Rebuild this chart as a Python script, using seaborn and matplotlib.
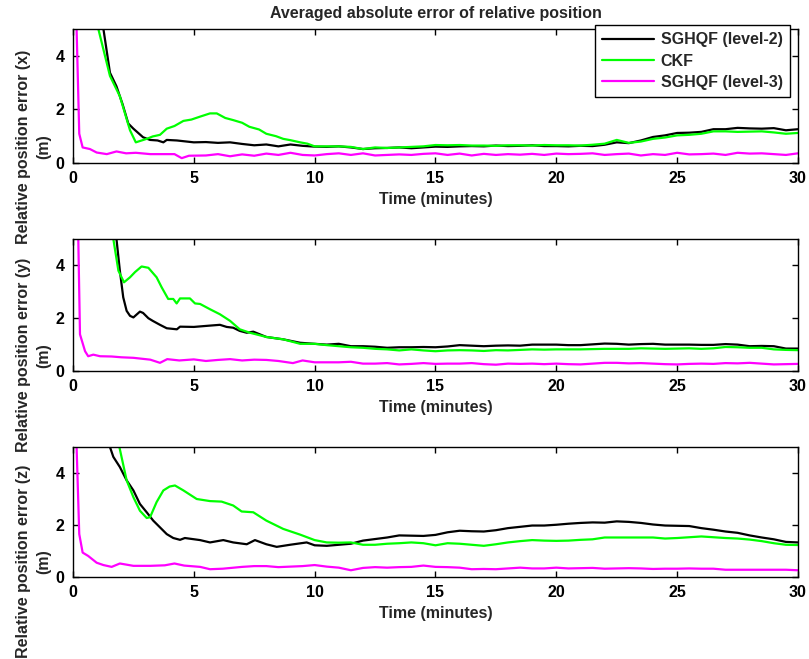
import numpy as np
import pandas as pd
import matplotlib
matplotlib.use("Agg")
import matplotlib.pyplot as plt
import seaborn as sns

# ---------------------------------------------------------------- data
FILTERS = ["SGHQF (level-2)", "CKF", "SGHQF (level-3)"]
COLORS = {"SGHQF (level-2)": "#000000", "CKF": "#00ff00", "SGHQF (level-3)": "#ff00ff"}
AXIS_NAMES = ["x", "y", "z"]

# common half-minute sampling from 10 min to the end of the run
TAIL_T = np.arange(10.0, 30.01, 0.5)

# ---- x axis
X_L2_T = [1.0, 1.26, 1.53, 1.8, 2.05, 2.29, 2.5, 2.9, 3.19, 3.5, 3.74, 3.88, 4.3, 4.7, 5.0, 5.5,
          6.0, 6.5, 7.0, 7.5, 8.0, 8.5, 9.0, 9.5]
X_L2_V = [6.6, 5.0, 3.37, 2.86, 2.2, 1.47, 1.28, 0.96, 0.86, 0.84, 0.77, 0.86, 0.84, 0.80, 0.77, 0.78,
          0.75, 0.77, 0.71, 0.66, 0.69, 0.62, 0.69, 0.64]
X_L2_TAIL = [0.61, 0.60, 0.62, 0.58, 0.52, 0.55, 0.56, 0.58, 0.55, 0.58,
             0.61, 0.60, 0.62, 0.63, 0.62, 0.65, 0.63, 0.64, 0.66, 0.63,
             0.63, 0.62, 0.64, 0.63, 0.68, 0.77, 0.74, 0.84, 0.97, 1.03,
             1.12, 1.13, 1.16, 1.26, 1.26, 1.31, 1.29, 1.28, 1.30, 1.22,
             1.26]

X_CKF_T = [0.8, 1.05, 1.53, 1.94, 2.36, 2.6, 3.05, 3.3, 3.6, 3.88, 4.2, 4.57, 4.9, 5.26, 5.67, 5.95,
           6.3, 6.63, 7.0, 7.3, 7.7, 8.0, 8.4, 8.7, 9.0, 9.4, 9.7]
X_CKF_V = [6.6, 5.0, 3.25, 2.49, 1.22, 0.77, 0.90, 0.99, 1.05, 1.28, 1.38, 1.57, 1.62, 1.73, 1.85, 1.85,
           1.68, 1.60, 1.50, 1.35, 1.25, 1.09, 1.00, 0.90, 0.85, 0.77, 0.72]
X_CKF_TAIL = [0.62, 0.62, 0.62, 0.60, 0.52, 0.58, 0.56, 0.58, 0.60, 0.62,
              0.67, 0.66, 0.67, 0.65, 0.65, 0.64, 0.66, 0.66, 0.65, 0.67,
              0.66, 0.66, 0.65, 0.68, 0.72, 0.86, 0.75, 0.80, 0.90, 0.95,
              1.03, 1.05, 1.09, 1.18, 1.18, 1.16, 1.17, 1.18, 1.14, 1.09,
              1.12]

X_L3_T = [0.1, 0.15, 0.26, 0.4, 0.7, 0.98, 1.4, 1.8, 2.2, 2.6, 3.2, 3.7, 4.2, 4.5, 4.8, 5.5,
          6.0, 6.5, 7.0, 7.5, 8.0, 8.5, 9.0, 9.5]
X_L3_V = [8.0, 5.0, 1.09, 0.58, 0.52, 0.39, 0.33, 0.43, 0.36, 0.38, 0.33, 0.33, 0.33, 0.18, 0.27, 0.28,
          0.33, 0.25, 0.32, 0.27, 0.35, 0.30, 0.38, 0.30]
X_L3_TAIL = [0.28, 0.33, 0.36, 0.30, 0.36, 0.28, 0.30, 0.32, 0.30, 0.34,
             0.36, 0.30, 0.35, 0.28, 0.34, 0.30, 0.33, 0.31, 0.34, 0.30,
             0.35, 0.33, 0.34, 0.36, 0.30, 0.33, 0.35, 0.28, 0.33, 0.30,
             0.38, 0.32, 0.33, 0.35, 0.30, 0.38, 0.35, 0.36, 0.33, 0.30,
             0.36]

# ---- y axis
Y_L2_T = [1.6, 1.8, 1.94, 2.08, 2.22, 2.36, 2.5, 2.77, 2.9, 3.12, 3.3, 3.6, 3.88, 4.3, 4.43, 5.0,
          5.53, 6.08, 6.36, 6.63, 6.9, 7.19, 7.46, 8.0, 8.7, 9.4]
Y_L2_V = [6.5, 5.0, 3.8, 2.79, 2.28, 2.09, 2.03, 2.25, 2.20, 2.00, 1.90, 1.75, 1.62, 1.58, 1.68, 1.67,
          1.71, 1.75, 1.67, 1.64, 1.52, 1.45, 1.49, 1.29, 1.20, 1.07]
Y_L2_TAIL = [1.03, 1.00, 1.03, 0.94, 0.94, 0.92, 0.88, 0.90, 0.90, 0.91,
             0.90, 0.93, 0.98, 0.96, 0.94, 0.96, 0.97, 0.96, 1.00, 1.00,
             1.00, 0.98, 0.98, 1.01, 1.04, 1.03, 1.00, 1.02, 1.03, 1.00,
             1.00, 1.00, 0.99, 0.99, 1.02, 1.00, 0.94, 0.95, 0.94, 0.85,
             0.85]

Y_CKF_T = [1.5, 1.67, 1.88, 2.11, 2.36, 2.57, 2.84, 3.12, 3.46, 3.67, 3.94, 4.15, 4.29, 4.43, 4.84,
           5.05, 5.26, 5.67, 6.08, 6.5, 6.9, 7.32, 8.0, 8.7, 9.4]
Y_CKF_V = [6.5, 5.0, 3.8, 3.36, 3.55, 3.75, 3.96, 3.91, 3.55, 3.17, 2.73, 2.73, 2.56, 2.75, 2.75,
           2.56, 2.54, 2.34, 2.15, 1.90, 1.58, 1.45, 1.29, 1.20, 1.03]
Y_CKF_TAIL = [1.03, 0.98, 0.94, 0.90, 0.88, 0.84, 0.82, 0.78, 0.82, 0.78,
              0.75, 0.78, 0.79, 0.78, 0.76, 0.79, 0.78, 0.80, 0.82, 0.81,
              0.82, 0.82, 0.82, 0.83, 0.84, 0.84, 0.84, 0.86, 0.85, 0.84,
              0.85, 0.86, 0.84, 0.86, 0.91, 0.90, 0.88, 0.88, 0.82, 0.80,
              0.79]

Y_L3_T = [0.15, 0.22, 0.29, 0.5, 0.63, 0.84, 1.12, 1.6, 2.0, 2.5, 3.2, 3.6, 3.9, 4.4, 5.0, 5.5,
          6.0, 6.5, 7.0, 7.5, 8.0, 8.5, 9.1, 9.5]
Y_L3_V = [8.0, 5.0, 1.39, 0.75, 0.56, 0.62, 0.56, 0.55, 0.52, 0.50, 0.43, 0.31, 0.45, 0.40, 0.44, 0.38,
          0.42, 0.45, 0.40, 0.43, 0.42, 0.38, 0.30, 0.40]
Y_L3_TAIL = [0.33, 0.33, 0.33, 0.35, 0.28, 0.28, 0.30, 0.25, 0.27, 0.30,
             0.27, 0.28, 0.28, 0.30, 0.26, 0.24, 0.28, 0.27, 0.28, 0.26,
             0.28, 0.26, 0.25, 0.28, 0.31, 0.31, 0.29, 0.30, 0.28, 0.26,
             0.25, 0.27, 0.28, 0.27, 0.30, 0.29, 0.31, 0.28, 0.25, 0.26,
             0.27]

# ---- z axis
Z_L2_T = [1.3, 1.53, 1.67, 1.94, 2.22, 2.5, 2.77, 3.05, 3.32, 3.6, 3.88, 4.15, 4.43, 4.63, 5.26,
          5.67, 6.22, 6.63, 7.19, 7.53, 8.0, 8.43, 8.98, 9.67]
Z_L2_V = [6.5, 5.0, 4.62, 4.23, 3.72, 3.33, 2.81, 2.49, 2.17, 1.91, 1.65, 1.50, 1.43, 1.50, 1.42,
          1.33, 1.42, 1.33, 1.26, 1.42, 1.26, 1.16, 1.24, 1.33]
Z_L2_TAIL = [1.22, 1.20, 1.24, 1.28, 1.40, 1.46, 1.52, 1.60, 1.59, 1.58,
             1.62, 1.72, 1.78, 1.76, 1.75, 1.80, 1.88, 1.93, 1.98, 1.98,
             2.01, 2.05, 2.08, 2.10, 2.09, 2.14, 2.12, 2.08, 2.02, 1.98,
             1.97, 1.96, 1.88, 1.82, 1.75, 1.70, 1.60, 1.52, 1.45, 1.35,
             1.33]

Z_CKF_T = [1.7, 1.92, 2.22, 2.5, 2.77, 3.05, 3.19, 3.46, 3.74, 4.0, 4.22, 4.57, 5.12, 5.67, 6.15,
           6.63, 6.98, 7.46, 8.0, 8.7, 9.4]
Z_CKF_V = [6.5, 5.0, 3.72, 3.07, 2.55, 2.27, 2.30, 2.88, 3.33, 3.48, 3.52, 3.33, 3.00, 2.92, 2.90,
           2.75, 2.52, 2.49, 2.17, 1.85, 1.63]
Z_CKF_TAIL = [1.42, 1.33, 1.32, 1.33, 1.24, 1.24, 1.28, 1.30, 1.33, 1.30,
              1.22, 1.30, 1.28, 1.24, 1.20, 1.26, 1.33, 1.38, 1.42, 1.40,
              1.39, 1.40, 1.43, 1.45, 1.52, 1.52, 1.52, 1.52, 1.52, 1.48,
              1.50, 1.53, 1.56, 1.53, 1.50, 1.48, 1.44, 1.38, 1.30, 1.24,
              1.23]

Z_L3_T = [0.1, 0.15, 0.26, 0.4, 0.63, 0.98, 1.26, 1.6, 1.94, 2.5, 3.2, 3.8, 4.2, 4.6, 5.26, 5.67,
          6.2, 7.0, 7.5, 8.0, 8.5, 9.0, 9.5]
Z_L3_V = [8.0, 5.0, 1.65, 0.94, 0.81, 0.55, 0.46, 0.39, 0.52, 0.43, 0.43, 0.45, 0.52, 0.44, 0.39, 0.30,
          0.32, 0.39, 0.42, 0.42, 0.38, 0.40, 0.42]
Z_L3_TAIL = [0.46, 0.40, 0.36, 0.26, 0.35, 0.38, 0.36, 0.38, 0.39, 0.44,
             0.39, 0.38, 0.36, 0.30, 0.31, 0.30, 0.33, 0.36, 0.33, 0.33,
             0.36, 0.33, 0.34, 0.35, 0.32, 0.33, 0.34, 0.33, 0.31, 0.32,
             0.32, 0.33, 0.32, 0.32, 0.28, 0.28, 0.28, 0.28, 0.28, 0.28,
             0.26]

PANELS = {
    "x": [(X_L2_T, X_L2_V, X_L2_TAIL), (X_CKF_T, X_CKF_V, X_CKF_TAIL), (X_L3_T, X_L3_V, X_L3_TAIL)],
    "y": [(Y_L2_T, Y_L2_V, Y_L2_TAIL), (Y_CKF_T, Y_CKF_V, Y_CKF_TAIL), (Y_L3_T, Y_L3_V, Y_L3_TAIL)],
    "z": [(Z_L2_T, Z_L2_V, Z_L2_TAIL), (Z_CKF_T, Z_CKF_V, Z_CKF_TAIL), (Z_L3_T, Z_L3_V, Z_L3_TAIL)],
}


def panel_frame(axis_name):
    rows = []
    for name, (t_head, v_head, v_tail) in zip(FILTERS, PANELS[axis_name]):
        t = list(t_head) + list(TAIL_T)
        v = list(v_head) + list(v_tail)
        rows.append(pd.DataFrame({"time": t, "error": v, "filter": name}))
    return pd.concat(rows, ignore_index=True)


# ---------------------------------------------------------------- style
FS = 11.5
sns.set_style("ticks")
plt.rcParams.update({
    "font.family": ["Liberation Sans", "DejaVu Sans"],
    "font.weight": "bold",
    "axes.labelweight": "bold",
    "axes.titleweight": "bold",
    "font.size": FS,
    "axes.linewidth": 1.0,
    "axes.edgecolor": "black",
})

fig = plt.figure(figsize=(8.09, 6.59), dpi=100)
left, width = 0.0902, 0.8962
boxes = [(0.7527, 0.2033), (0.4370, 0.2003), (0.1244, 0.1973)]

for i, (axis_name, (bottom, height)) in enumerate(zip(AXIS_NAMES, boxes)):
    ax = fig.add_axes([left, bottom, width, height])
    df = panel_frame(axis_name)
    sns.lineplot(data=df, x="time", y="error", hue="filter", hue_order=FILTERS,
                 palette=COLORS, estimator=None, sort=False, linewidth=1.6,
                 legend=False, ax=ax)
    ax.set_xlim(0, 30)
    ax.set_ylim(0, 5)
    ax.set_xticks([0, 5, 10, 15, 20, 25, 30])
    ax.set_yticks([0, 2, 4])
    ax.tick_params(direction="in", top=True, right=True, length=4, width=1,
                   labelsize=FS, pad=6, colors="black")
    for s in ax.spines.values():
        s.set_visible(True)
        s.set_color("black")
    ax.set_xlabel("Time (minutes)", fontsize=FS, labelpad=4)
    ax.set_ylabel(f"Relative position error ({axis_name})\n(m)", fontsize=FS,
                  linespacing=1.45)
    ax.yaxis.set_label_coords(-0.030, 0.12)

    if i == 0:
        ax.set_title("Averaged absolute error of relative position", fontsize=FS, pad=8)
        handles = ax.get_lines()[:3]
        leg = ax.legend(handles, FILTERS, loc="upper right",
                        bbox_to_anchor=(790 / 809, 1 - 25 / 659),
                        bbox_transform=fig.transFigure, borderaxespad=0,
                        fontsize=FS, frameon=True, fancybox=False, framealpha=1,
                        edgecolor="black", handlelength=3.3, handletextpad=0.4,
                        labelspacing=0.4, borderpad=0.45)
        leg.get_frame().set_linewidth(1.0)

fig.savefig("out.png", dpi=100)
